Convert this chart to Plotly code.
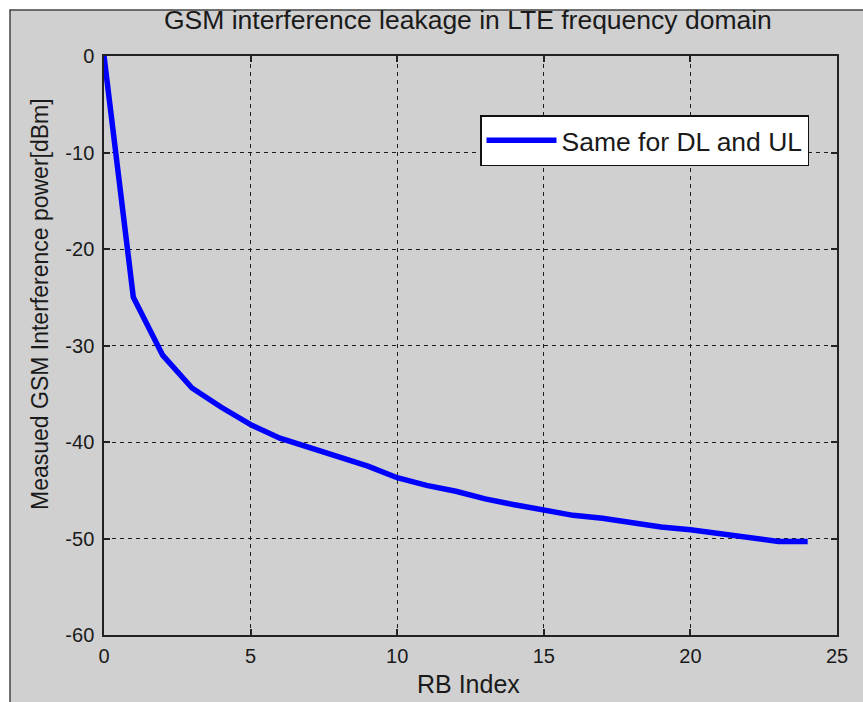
import plotly.graph_objects as go

rb_index = list(range(0, 25))
power_dbm = [0, -25, -31, -34.4, -36.4, -38.2, -39.6, -40.6, -41.5, -42.5,
             -43.7, -44.5, -45.1, -45.9, -46.5, -47.0, -47.6, -47.9, -48.4,
             -48.8, -49.1, -49.5, -49.8, -50.3, -50.3]
x_ticks = [0, 5, 10, 15, 20, 25]
y_ticks = [-60, -50, -40, -30, -20, -10, 0]
series_name = "Same for DL and UL"
title_text = "GSM interference leakage in LTE frequency domain"
x_title = "RB Index"
y_title = "Measued GSM Interference power[dBm]"

W, H = 863, 702
L, R, T, B = 104, 837, 56, 635
pw, ph = R - L, B - T

def px(xp):
    return (xp - L) / pw

def py(yp):
    return (B - yp) / ph

FONT = "Liberation Sans, Arial, sans-serif"
GRAY = "#d0d0d0"
TXT = "#1a1a1a"

fig = go.Figure()
fig.add_trace(go.Scatter(x=rb_index, y=power_dbm, mode="lines", name=series_name,
                         line=dict(color="#0000ff", width=5.5), showlegend=True))

axis_common = dict(showline=True, linecolor="#222222", linewidth=1.5, mirror="ticks",
                   ticks="inside", ticklen=6, tickcolor="#222222", tickwidth=1.5,
                   showgrid=True, gridcolor="#1e1e1e", gridwidth=1.3, griddash="4px,4px",
                   zeroline=False, tickfont=dict(family=FONT, size=20, color=TXT))

fig.update_xaxes(range=[0, 25], tickvals=x_ticks, ticktext=[str(v) for v in x_ticks],
                 ticklabelstandoff=2, **axis_common)
fig.update_yaxes(range=[-60, 0], tickvals=y_ticks, ticktext=[str(v) for v in y_ticks],
                 ticklabelstandoff=4, **axis_common)

shapes = [
    dict(type="rect", xref="paper", yref="paper", x0=px(10), x1=px(W + 20), y0=py(H + 20), y1=py(10),
         fillcolor=GRAY, line=dict(color="#444444", width=1.5), layer="below"),
]

annotations = [
    dict(text=title_text, xref="paper", yref="paper", x=px(467.5), y=py(20), xanchor="center",
         yanchor="middle", showarrow=False, font=dict(family=FONT, size=26.5, color=TXT)),
    dict(text=x_title, xref="paper", yref="paper", x=px(468), y=py(684), xanchor="center",
         yanchor="middle", showarrow=False, font=dict(family=FONT, size=25, color=TXT)),
    dict(text=y_title, xref="paper", yref="paper", x=px(40), y=py(304), xanchor="center",
         yanchor="middle", textangle=-90, showarrow=False,
         font=dict(family=FONT, size=23, color=TXT)),
]

fig.update_layout(
    width=W, height=H,
    margin=dict(l=L, r=W - R, t=T, b=H - B, pad=0),
    paper_bgcolor="white", plot_bgcolor="white",
    shapes=shapes, annotations=annotations,
    legend=dict(x=px(480), y=py(115), xanchor="left", yanchor="top",
                bgcolor="white", bordercolor="#111111", borderwidth=1.5,
                font=dict(family=FONT, size=26.5, color=TXT), itemwidth=70,
                tracegroupgap=0),
    showlegend=True,
)

fig.write_html("out.html")
